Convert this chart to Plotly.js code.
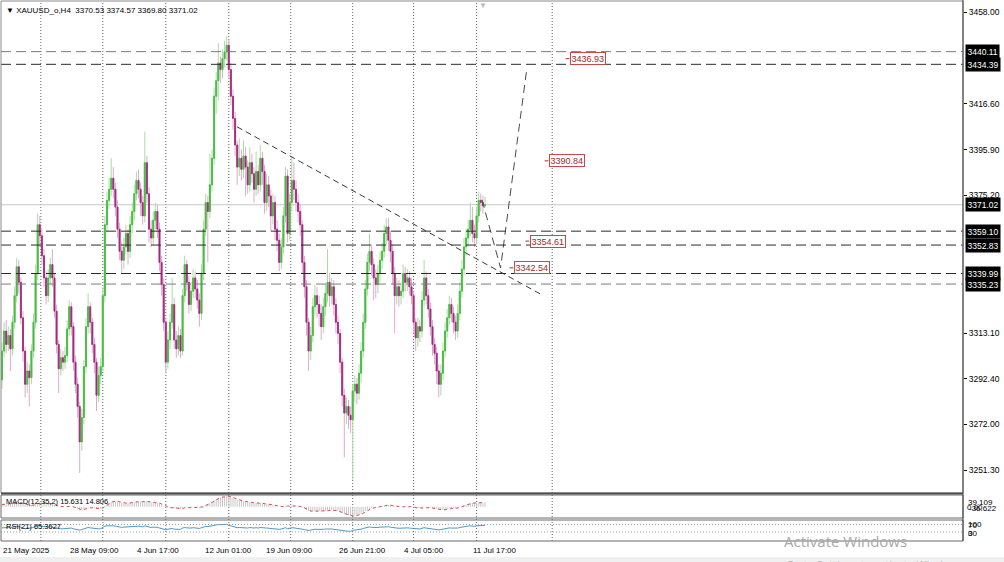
<!DOCTYPE html>
<html><head><meta charset="utf-8">
<script src="https://cdn.plot.ly/plotly-3.0.1.min.js"></script>
<style>html,body{margin:0;padding:0;background:#fff;overflow:hidden}#chart{width:1004px;height:562px}</style>
</head><body><div id="chart"></div>
<script>
// ---------- DATA ----------
const symbolTitle = "XAUUSD_o,H4";
const lastOHLC = [3370.53, 3374.57, 3369.80, 3371.02];

const openP = [3292,3305,3314,3308,3312,3306,3318,3330,3343,3336,
3320,3305,3290,3296,3293,3305,3318,3340,3362,3357,
3348,3338,3330,3338,3344,3338,3323,3308,3297,3302,
3300,3303,3315,3325,3316,3300,3290,3280,3264,3275,
3298,3316,3325,3318,3308,3300,3285,3294,3298,3330,
3362,3373,3378,3383,3378,3370,3360,3350,3346,3352,
3358,3350,3362,3368,3376,3382,3378,3372,3366,3390,
3376,3360,3356,3364,3368,3360,3345,3335,3318,3300,
3310,3318,3326,3310,3306,3312,3305,3330,3344,3336,
3326,3332,3338,3333,3328,3322,3340,3360,3372,3368,
3380,3392,3420,3427,3435,3432,3437,3440,3443,3432,
3420,3410,3398,3388,3392,3387,3393,3388,3380,3390,
3385,3378,3386,3380,3392,3386,3372,3380,3375,3366,
3372,3360,3355,3345,3352,3366,3384,3358,3372,3382,
3378,3372,3368,3362,3345,3334,3318,3305,3312,3325,
3330,3326,3322,3316,3325,3331,3336,3330,3334,3326,
3318,3313,3300,3285,3277,3280,3276,3274,3287,3290,
3286,3295,3305,3318,3333,3345,3350,3344,3338,3335,
3340,3346,3350,3358,3361,3355,3350,3340,3330,3334,
3330,3332,3340,3336,3338,3334,3330,3318,3311,3316,
3314,3328,3338,3330,3324,3316,3308,3304,3296,3290,
3295,3305,3314,3320,3326,3322,3318,3314,3322,3332,
3342,3352,3356,3360,3364,3358,3356,3366,3373,3372,
3370.53];
const highP = [3309,3318,3319,3316,3315,3321,3334,3347,3346,3338,
3323,3307,3300,3299,3308,3322,3344,3367,3366,3360,
3351,3341,3342,3347,3351,3340,3326,3310,3306,3305,
3307,3319,3328,3327,3318,3303,3293,3282,3279,3301,
3320,3331,3327,3320,3311,3302,3298,3302,3334,3366,
3377,3383,3392,3388,3381,3373,3363,3354,3356,3362,
3360,3366,3372,3380,3386,3387,3381,3375,3404,3393,
3379,3364,3368,3372,3371,3363,3348,3338,3320,3314,
3322,3338,3329,3314,3316,3315,3333,3348,3346,3339,
3336,3342,3341,3337,3331,3344,3364,3376,3375,3394,
3396,3424,3431,3444,3438,3441,3445,3447,3446,3435,
3423,3413,3400,3401,3396,3400,3397,3391,3397,3394,
3388,3395,3389,3398,3395,3389,3385,3384,3378,3376,
3375,3364,3358,3356,3370,3388,3387,3376,3393,3390,
3382,3376,3371,3364,3348,3337,3320,3316,3329,3335,
3334,3330,3326,3329,3335,3351,3340,3338,3337,3329,
3321,3315,3302,3288,3284,3283,3280,3290,3294,3293,
3299,3309,3322,3337,3349,3358,3353,3347,3342,3344,
3350,3354,3362,3365,3365,3359,3353,3343,3338,3337,
3336,3344,3343,3342,3341,3338,3332,3320,3320,3319,
3332,3346,3341,3333,3327,3319,3311,3307,3299,3299,
3309,3318,3324,3330,3329,3325,3321,3326,3336,3346,
3356,3360,3364,3372,3370,3362,3370,3377,3376,3375,
3374.57];
const lowP = [3288,3302,3304,3305,3296,3303,3315,3327,3331,3317,
3300,3284,3286,3280,3290,3302,3315,3337,3352,3344,
3334,3326,3327,3335,3334,3320,3304,3286,3294,3296,
3297,3300,3312,3312,3296,3286,3275,3250,3260,3272,
3295,3313,3313,3304,3295,3278,3282,3290,3296,3327,
3359,3369,3375,3374,3366,3356,3346,3340,3342,3349,
3344,3347,3358,3364,3373,3374,3366,3362,3363,3372,
3354,3352,3353,3360,3356,3341,3330,3314,3295,3297,
3306,3315,3306,3302,3303,3302,3303,3327,3332,3322,
3323,3329,3329,3324,3316,3319,3337,3357,3345,3365,
3377,3389,3412,3418,3426,3428,3433,3436,3428,3416,
3405,3393,3380,3384,3382,3383,3375,3376,3377,3381,
3372,3375,3376,3377,3380,3367,3368,3370,3359,3362,
3355,3350,3341,3342,3349,3363,3354,3355,3368,3373,
3368,3363,3357,3340,3329,3312,3296,3301,3309,3321,
3320,3316,3310,3313,3321,3327,3325,3326,3321,3313,
3308,3295,3280,3257,3272,3270,3268,3247,3282,3281,
3283,3291,3302,3315,3330,3341,3339,3328,3329,3331,
3336,3342,3347,3353,3350,3345,3335,3313,3326,3325,
3326,3329,3332,3332,3330,3326,3313,3305,3307,3309,
3311,3325,3326,3320,3312,3303,3299,3290,3284,3285,
3292,3302,3311,3317,3318,3313,3310,3311,3319,3329,
3339,3348,3352,3357,3354,3352,3353,3363,3368,3367,
3369.80];
const closeP = [3305,3314,3308,3312,3306,3318,3330,3343,3336,3320,
3305,3290,3296,3293,3305,3318,3340,3362,3357,3348,
3338,3330,3338,3344,3338,3323,3308,3297,3302,3300,
3303,3315,3325,3316,3300,3290,3280,3264,3275,3298,
3316,3325,3318,3308,3300,3285,3294,3298,3330,3362,
3373,3378,3383,3378,3370,3360,3350,3346,3352,3358,
3350,3362,3368,3376,3382,3378,3372,3366,3390,3376,
3360,3356,3364,3368,3360,3345,3335,3318,3300,3310,
3318,3326,3310,3306,3312,3305,3330,3344,3336,3326,
3332,3338,3333,3328,3322,3340,3360,3372,3368,3380,
3392,3420,3427,3435,3432,3437,3440,3443,3432,3420,
3410,3398,3388,3392,3387,3393,3388,3380,3390,3385,
3378,3386,3380,3392,3386,3372,3380,3375,3366,3372,
3360,3355,3345,3352,3366,3384,3358,3372,3382,3378,
3372,3368,3362,3345,3334,3318,3305,3312,3325,3330,
3326,3322,3316,3325,3331,3336,3330,3334,3326,3318,
3313,3300,3285,3277,3280,3276,3274,3287,3290,3286,
3295,3305,3318,3333,3345,3350,3344,3338,3335,3340,
3346,3350,3358,3361,3355,3350,3340,3330,3334,3330,
3332,3340,3336,3338,3334,3330,3318,3311,3316,3314,
3328,3338,3330,3324,3316,3308,3304,3296,3290,3295,
3305,3314,3320,3326,3322,3318,3314,3322,3332,3342,
3352,3356,3360,3364,3358,3356,3366,3373,3372,3370.53,
3371.02];

const macdMain = [8,9,9,10,10,11,12,14,14,13,
11,8,7,5,5,6,9,13,14,14,
13,11,11,11,10,8,5,2,1,0,
0,1,2,1,-1,-3,-6,-10,-10,-8,
-5,-3,-3,-4,-5,-7,-7,-6,-2,4,
9,13,17,19,19,18,16,14,13,13,
12,13,14,16,18,18,18,17,19,19,
17,15,15,15,14,11,8,4,0,-2,
-3,-3,-5,-6,-6,-7,-5,-2,-2,-3,
-3,-2,-2,-3,-4,-2,2,7,9,12,
16,22,26,30,32,34,35,36,35,33,
30,27,24,22,20,19,18,16,16,15,
13,13,13,13,12,10,10,9,7,7,
5,3,1,1,2,4,2,3,4,4,
3,2,1,-2,-5,-9,-13,-15,-15,-15,
-15,-15,-16,-15,-14,-12,-12,-11,-12,-13,
-14,-17,-21,-24,-26,-28,-30,-31,-30,-29,
-27,-24,-20,-15,-10,-6,-4,-3,-2,-1,
0,2,4,6,6,5,4,2,1,0,
0,1,1,1,1,0,-2,-4,-4,-4,
-3,-1,-1,-2,-3,-5,-6,-8,-10,-11,
-10,-9,-7,-5,-5,-5,-5,-4,-1,2,
5,8,10,13,13,13,14,15,15,15,
15.631];
const macdSignal = [8,8.5,9,9.5,10,10.5,11.5,13,14,13.5,
12,9.5,7.5,6,5,5.5,7.5,11,13.5,14,
13.5,12,11,11,10.5,9,6.5,3.5,1.5,0.5,
0,0.5,1.5,1.5,0,-2,-4.5,-8,-10,-9,
-6.5,-4,-3,-3.5,-4.5,-6,-7,-6.5,-4,1,
6.5,11,15,18,19,18.5,17,15,13.5,13,
12.5,12.5,13.5,15,17,18,18,17.5,18,19,
18,16,15,15,14.5,12.5,9.5,6,2,-1,
-2.5,-3,-4,-5.5,-6,-6.5,-6,-3.5,-2,-2.5,
-3,-2.5,-2,-2.5,-3.5,-3,0,4.5,8,10.5,
14,19,24,28,31,33,34.5,35.5,35.5,34,
31.5,28.5,25.5,23,21,19.5,18.5,17,16,15.5,
14,13,13,13,12.5,11,10,9.5,8,7,
6,4,2,1,1.5,3,3,2.5,3.5,4,
3.5,2.5,1.5,-0.5,-3.5,-7,-11,-14,-15,-15,
-15,-15,-15.5,-15.5,-14.5,-13,-12,-11.5,-11.5,-12.5,
-13.5,-15.5,-19,-22.5,-25,-27,-29,-30.5,-30.5,-29.5,
-28,-25.5,-22,-17.5,-12.5,-8,-5,-3.5,-2.5,-1.5,
-0.5,1,3,5,6,5.5,4.5,3,1.5,0.5,
0,0.5,1,1,1,0.5,-1,-3,-4,-4,
-3.5,-2,-1,-1.5,-2.5,-4,-5.5,-7,-9,-10.5,
-10.5,-9.5,-8,-6,-5,-5,-5,-4.5,-2.5,0.5,
3.5,6.5,9,11.5,13,13,13.5,14.5,15,15,
14.806];
const rsiVals = [52,54,53,54,52,55,58,61,59,55,
52,48,50,49,52,55,60,64,62,60,
57,55,57,58,56,52,48,46,47,47,
48,51,53,51,47,45,43,40,43,48,
52,54,52,50,48,45,47,48,55,61,
63,64,65,63,61,58,56,55,56,57,
55,58,59,61,62,61,59,58,63,59,
55,54,56,57,55,51,49,45,42,45,
47,49,45,44,46,44,51,54,52,50,
51,53,51,50,49,53,57,60,59,61,
63,68,69,70,69,70,70,71,66,62,
59,56,53,54,53,55,53,51,54,52,
51,53,51,54,52,49,51,50,48,50,
47,46,44,46,49,53,47,51,53,52,
51,50,48,45,43,40,38,40,43,45,
44,43,42,44,46,47,45,46,44,42,
41,38,35,34,35,34,34,39,40,39,
42,45,49,53,56,57,55,54,53,54,
56,57,59,60,58,56,53,50,51,50,
51,53,52,52,51,50,47,45,47,46,
50,53,51,49,47,45,44,42,41,43,
46,48,50,52,51,50,49,51,54,57,
60,61,62,63,61,60,63,65,65,65,
65.3627];

const priceTicks = [3458.00, 3416.60, 3395.90, 3375.20, 3313.10, 3292.40, 3272.00, 3251.30];
const hLevels = [3440.11, 3434.39, 3359.10, 3352.83, 3339.99, 3335.23];
const bidPrice = 3371.02;
const boxPrices = [3440.11, 3434.39, 3371.02, 3359.10, 3352.83, 3339.99, 3335.23];
const timeLabels = ["21 May 2025","28 May 09:00","4 Jun 17:00","12 Jun 01:00","19 Jun 09:00","26 Jun 21:00","4 Jul 05:00","11 Jul 17:00"];
const timeLabelBars = [0, 32, 64, 96, 125, 160, 191, 224];
const weekGridBars = [18.5, 48, 78, 108, 137.5, 167, 196, 226, 262];
const trendBars = [111.9, 257.2];
const trendPrices = [3406.2, 3330.3];
const projBars = [228.6, 237.4, 250];
const projPrices = [3373.2, 3342.5, 3433];
const tagPrices = [3436.93, 3390.84, 3354.61, 3342.54];
const tagBars = [270.5, 260.5, 251.4, 243.8];
const macdScale = ["39.109", "0.00", "-36.622"];
const macdRange = [-36.622, 39.109];
const rsiLevels = [70, 30];
const rsiScale = ["100", "70", "30", "0"];

// ---------- LAYOUT HELPERS ----------
const W = 1004, H = 562;
const PX = x => x / W;
const PY = y => 1 - y / H;
const FONT = "Liberation Sans, Arial, sans-serif";
const idx = closeP.map((_, i) => i);
const n = closeP.length;
const bodyHi = openP.map((o, i) => Math.max(o, closeP[i]));
const bodyLo = openP.map((o, i) => Math.min(o, closeP[i]));

const traces = [
  { type: 'candlestick', x: idx, open: openP, high: highP, low: lowP, close: closeP,
    xaxis: 'x', yaxis: 'y', whiskerwidth: 0, hoverinfo: 'skip',
    increasing: { line: { color: '#a9dca4', width: 1 }, fillcolor: '#a9dca4' },
    decreasing: { line: { color: '#dfa9d2', width: 1 }, fillcolor: '#dfa9d2' } },
  { type: 'candlestick', x: idx, open: openP, high: bodyHi, low: bodyLo, close: closeP,
    xaxis: 'x', yaxis: 'y', whiskerwidth: 0, hoverinfo: 'skip',
    increasing: { line: { color: '#45bb3c', width: 0.8 }, fillcolor: '#45bb3c' },
    decreasing: { line: { color: '#a2287e', width: 0.8 }, fillcolor: '#a2287e' } },
  { type: 'bar', x: idx, y: macdMain, xaxis: 'x', yaxis: 'y2', width: 0.45,
    marker: { color: '#c4c4c4', line: { width: 0 } }, hoverinfo: 'skip' },
  { type: 'scatter', mode: 'lines', x: idx, y: macdSignal, xaxis: 'x', yaxis: 'y2',
    line: { color: '#d05050', width: 1, dash: 'dot' }, hoverinfo: 'skip' },
  { type: 'scatter', mode: 'lines', x: idx, y: rsiVals, xaxis: 'x', yaxis: 'y3',
    line: { color: '#4a98c8', width: 1 }, hoverinfo: 'skip' },
  { type: 'scatter', mode: 'lines', x: trendBars, y: trendPrices, xaxis: 'x', yaxis: 'y',
    line: { color: '#3a3a3a', width: 1, dash: '6px,4px' }, hoverinfo: 'skip' },
  { type: 'scatter', mode: 'lines', x: projBars, y: projPrices, xaxis: 'x', yaxis: 'y',
    line: { color: '#4a4a4a', width: 1, dash: '8px,5px' }, hoverinfo: 'skip' }
];

const shapes = [];
weekGridBars.forEach(b => shapes.push({ type: 'line', xref: 'x', yref: 'paper', x0: b, x1: b,
  y0: PY(541), y1: PY(1), line: { color: '#606060', width: 1, dash: '1px,2px' }, layer: 'below' }));
shapes.push({ type: 'line', xref: 'paper', yref: 'y', x0: PX(1), x1: PX(963), y0: bidPrice, y1: bidPrice,
  line: { color: '#c8c8c8', width: 1 }, layer: 'below' });
const lvlColor = ['#7a7a7a', '#2a2a2a', '#2a2a2a', '#2a2a2a', '#2a2a2a', '#7a7a7a'];
hLevels.forEach((p, k) => shapes.push({ type: 'line', xref: 'paper', yref: 'y', x0: PX(1), x1: PX(963),
  y0: p, y1: p, line: { color: lvlColor[k], width: 1, dash: '10px,5px' } }));
tagPrices.forEach((p, k) => shapes.push({ type: 'line', xref: 'x', yref: 'y', x0: tagBars[k] - 2.1, x1: tagBars[k] - 0.3,
  y0: p, y1: p, line: { color: '#a03030', width: 1 } }));
rsiLevels.forEach(v => shapes.push({ type: 'line', xref: 'paper', yref: 'y3', x0: PX(1), x1: PX(963), y0: v, y1: v,
  line: { color: '#a0a0a0', width: 1, dash: '1px,2px' } }));
const frame = (x0, y0, x1, y1, c, w) => shapes.push({ type: 'rect', xref: 'paper', yref: 'paper',
  x0: PX(x0), x1: PX(x1), y0: PY(y1), y1: PY(y0), line: { color: c, width: w }, fillcolor: 'rgba(0,0,0,0)' });
frame(1, 1, 963, 493, '#8a8a8a', 1);
frame(1, 495, 963, 518, '#6a6a6a', 1);
frame(1, 520, 963, 541, '#6a6a6a', 1);
shapes.push({ type: 'line', xref: 'paper', yref: 'paper', x0: PX(1), x1: PX(963), y0: PY(493.5), y1: PY(493.5),
  line: { color: '#505050', width: 2 } });
shapes.push({ type: 'line', xref: 'paper', yref: 'paper', x0: PX(963), x1: PX(963), y0: PY(541), y1: PY(0),
  line: { color: '#404040', width: 1 } });
shapes.push({ type: 'rect', xref: 'paper', yref: 'paper', x0: 0, x1: 1, y0: 0, y1: PY(557),
  line: { width: 0 }, fillcolor: '#f0f0f0' });

const ann = [];
ann.push({ xref: 'paper', yref: 'paper', x: PX(4), y: PY(11), xanchor: 'left', yanchor: 'middle', showarrow: false,
  text: '\u25BC ' + symbolTitle + '  ' + lastOHLC.map(v => v.toFixed(2)).join(' '),
  font: { family: FONT, size: 8, color: '#000' } });
ann.push({ xref: 'paper', yref: 'paper', x: PX(483), y: PY(5), xanchor: 'center', yanchor: 'middle', showarrow: false,
  text: '\u25BC', font: { family: FONT, size: 8, color: '#b8b8b8' } });
boxPrices.forEach(p => ann.push({ xref: 'paper', yref: 'y', x: PX(965), y: p, xanchor: 'left', yanchor: 'middle',
  showarrow: false, text: p.toFixed(2), bgcolor: '#000', borderpad: 1.5,
  font: { family: FONT, size: 8.5, color: '#fff' } }));
tagPrices.forEach((p, k) => ann.push({ xref: 'x', yref: 'y', x: tagBars[k], y: p, xanchor: 'left', yanchor: 'middle',
  showarrow: false, text: p.toFixed(2), bgcolor: '#fff', bordercolor: '#c84848', borderwidth: 1, borderpad: 0.5,
  font: { family: FONT, size: 9, color: '#a02828' } }));
timeLabels.forEach((t, k) => ann.push({ xref: 'x', yref: 'paper', x: timeLabelBars[k], y: PY(550), xanchor: 'left',
  yanchor: 'middle', showarrow: false, text: t, xshift: -1, font: { family: FONT, size: 8, color: '#000' } }));
ann.push({ xref: 'paper', yref: 'paper', x: PX(4), y: PY(501.5), xanchor: 'left', yanchor: 'middle', showarrow: false,
  text: 'MACD(12,35,2) ' + macdMain[n - 1].toFixed(3) + ' ' + macdSignal[n - 1].toFixed(3),
  font: { family: FONT, size: 7.5, color: '#000' } });
ann.push({ xref: 'paper', yref: 'paper', x: PX(4), y: PY(526), xanchor: 'left', yanchor: 'middle', showarrow: false,
  text: 'RSI(21) ' + rsiVals[n - 1].toFixed(4), font: { family: FONT, size: 7.5, color: '#000' } });
const sc = (t, x, y) => ann.push({ xref: 'paper', yref: 'paper', x: PX(x), y: PY(y), xanchor: 'left', yanchor: 'middle',
  showarrow: false, text: t, font: { family: FONT, size: 8, color: '#000' } });
sc(macdScale[0], 966, 502); sc(macdScale[1], 965, 507.5); sc(macdScale[2], 967, 508.5);
sc(rsiScale[0], 966, 524); sc(rsiScale[1], 966, 525); sc(rsiScale[2], 966, 533); sc(rsiScale[3], 966, 533.5);
ann.push({ xref: 'paper', yref: 'paper', x: PX(782), y: PY(541), xanchor: 'left', yanchor: 'middle', showarrow: false,
  text: 'Activate Windows', font: { family: 'Open Sans, Noto Sans, sans-serif', size: 15, color: '#a9a9a9' } });
ann.push({ xref: 'paper', yref: 'paper', x: PX(784), y: PY(564), xanchor: 'left', yanchor: 'middle', showarrow: false,
  text: 'Go to Settings to activate Windows.', font: { family: 'Open Sans, Noto Sans, sans-serif', size: 11, color: '#b0b0b0' } });

const pxPer = 2.216;
const layout = {
  width: W, height: H, margin: { l: 0, r: 0, t: 0, b: 0 },
  paper_bgcolor: '#fff', plot_bgcolor: '#fff', showlegend: false, dragmode: false,
  xaxis: { domain: [PX(1), PX(963)], range: [-1 / 2.1, 961 / 2.1], showgrid: false, zeroline: false,
    showticklabels: false, ticks: '', showline: false, rangeslider: { visible: false }, anchor: 'y', fixedrange: true },
  yaxis: { domain: [PY(493), PY(2)], range: [3458 - (493 - 12) / pxPer, 3458 + (12 - 2) / pxPer],
    side: 'right', anchor: 'x', tickvals: priceTicks, ticktext: priceTicks.map(v => v.toFixed(2)),
    ticks: 'outside', ticklen: 3, tickcolor: '#000', showgrid: false, zeroline: false, showline: false,
    tickfont: { family: FONT, size: 8.5, color: '#000' }, fixedrange: true },
  yaxis2: { domain: [PY(518), PY(495)], range: [macdRange[0] - 1, macdRange[1] + 1], anchor: 'x', side: 'right',
    showticklabels: false, showgrid: false, zeroline: false, ticks: '', fixedrange: true },
  yaxis3: { domain: [PY(537.6), PY(518.9)], range: [0, 100], anchor: 'x', side: 'right',
    showticklabels: false, showgrid: false, zeroline: false, ticks: '', fixedrange: true },
  shapes: shapes, annotations: ann
};
Plotly.newPlot('chart', traces, layout, { staticPlot: true, displayModeBar: false });
</script></body></html>
